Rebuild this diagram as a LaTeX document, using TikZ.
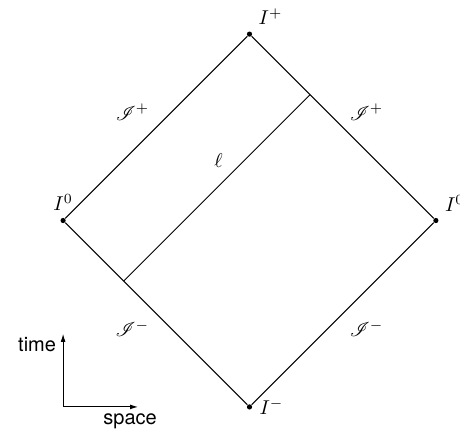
\documentclass[tikz,border=0pt]{standalone}
\usepackage{fontspec}
\usepackage{mathrsfs}
\newfontfamily\axfont{TeX Gyre Heros}
\usetikzlibrary{positioning,arrows.meta}

\begin{document}
\begin{tikzpicture}[
    x=23.3pt, y=23.3pt,
    dot/.style={circle, fill=black, inner sep=0pt, minimum size=2.6pt},
    edge/.style={black, line width=0.5pt},
    axis/.style={-{Latex[length=4pt,width=2.4pt]}, line width=0.5pt},
    axlabel/.style={font=\axfont}
]
\useasboundingbox (-5.354,-4.517) rectangle (4.517,4.732);
% corners of the diagram
\node[dot, label={above right:$I^+$}] (Ip) at (0,4) {};
\node[dot, label={above:$I^0$}] (I0l) at (-4,0) {};
\node[dot, label={above right:$I^0$}] (I0r) at (4,0) {};
\node[dot, label={right:$I^-$}] (Im) at (0,-4) {};
\draw[edge] (I0l) -- node[above left] {$\mathscr{I}^+$} (Ip);
\draw[edge] (Ip) -- node[above right] {$\mathscr{I}^+$} (I0r);
\draw[edge] (I0l) -- node[below left] {$\mathscr{I}^-$} (Im);
\draw[edge] (Im) -- node[below right] {$\mathscr{I}^-$} (I0r);
% light ray
\coordinate (la) at (-2.7,-1.3);
\coordinate (lb) at (1.3,2.7);
\draw[edge] (la) -- node[pos=0.57, above left] {$\ell$} (lb);
% axes
\coordinate (ax0) at (-4,-4);
\coordinate (tend) at (-4,-2.43);
\coordinate (send) at (-2.39,-4);
\draw[axis] (ax0) -- (tend);
\draw[axis] (ax0) -- (send);
\node[axlabel, anchor=north east, yshift=1.5pt] (tlbl) at (tend) {time};
\node[axlabel, below=0pt of send, xshift=-4pt] (slbl) {space};
\end{tikzpicture}
\end{document}
